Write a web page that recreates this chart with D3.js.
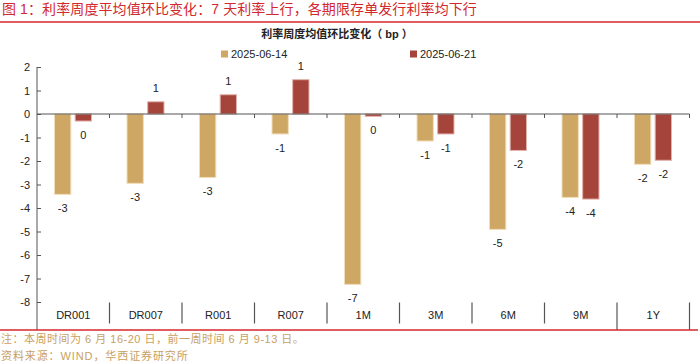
<!DOCTYPE html>
<html>
<head>
<meta charset="utf-8">
<script src="https://cdn.jsdelivr.net/npm/d3@7"></script>
<style>
  html, body { margin: 0; padding: 0; background: #fff; }
  svg { display: block; }
</style>
</head>
<body>
<svg id="chart" width="700" height="362"></svg>
<script>
// ---- data ----
const categories = ["DR001", "DR007", "R001", "R007", "1M", "3M", "6M", "9M", "1Y"];
const seriesNames = ["2025-06-14", "2025-06-21"];
const values0614 = [-3.42, -2.95, -2.70, -0.85, -7.25, -1.15, -4.91, -3.55, -2.14];
const values0621 = [-0.30, 0.52, 0.82, 1.46, -0.10, -0.85, -1.55, -3.62, -1.97];
const yTicks = [2, 1, 0, -1, -2, -3, -4, -5, -6, -7, -8];
const titleText = "图 1：利率周度平均值环比变化：7 天利率上行，各期限存单发行利率均下行";
const subtitleText = "利率周度均值环比变化（ bp ）";
const noteText = "注：本周时间为 6 月 16-20 日，前一周时间 6 月 9-13 日。";
const sourceText = "资料来源：WIND，华西证券研究所";

// ---- styles ----
const colors = ["#CFA764", "#A5443A"];
const strokes = ["#F1DDB8", "#E2B3AC"];
const latin = "'Liberation Sans', Arial, sans-serif";
const cjk = "'Liberation Sans', 'Noto Sans CJK SC', sans-serif";
const axisColor = "#555";

const svg = d3.select("#chart");

// title
svg.append("text")
  .attr("x", 2).attr("y", 9)
  .attr("dominant-baseline", "central")
  .attr("font-family", cjk).attr("font-size", 14)
  .attr("letter-spacing", 0.1)
  .attr("fill", "#D2282E")
  .text(titleText);
svg.append("line")
  .attr("x1", 0).attr("x2", 700).attr("y1", 22).attr("y2", 22)
  .attr("stroke", "#D9272E").attr("stroke-width", 1.5);

// subtitle
svg.append("text")
  .attr("x", 337).attr("y", 33.5)
  .attr("text-anchor", "middle").attr("dominant-baseline", "central")
  .attr("font-family", cjk).attr("font-size", 11).attr("font-weight", "bold")
  .attr("fill", "#222")
  .text(subtitleText);

// legend
const legendX = [221, 410];
seriesNames.forEach((name, i) => {
  svg.append("rect")
    .attr("x", legendX[i]).attr("y", 50.5).attr("width", 7).attr("height", 7)
    .attr("fill", colors[i]);
  svg.append("text")
    .attr("x", legendX[i] + 10).attr("y", 54.3)
    .attr("dominant-baseline", "central")
    .attr("font-family", latin).attr("font-size", 11).attr("fill", "#222")
    .text(name);
});

// scales
const x = d3.scaleBand().domain(categories).range([37, 689.5]).padding(0);
const sub = d3.scaleBand().domain(seriesNames)
  .range([17.5, 54.5]).paddingInner(0.21).paddingOuter(0);
const y = d3.scaleLinear().domain([2, -8]).range([67, 302]);

// bars
const series = [values0614, values0621];
const barData = [];
categories.forEach((c, ci) => {
  series.forEach((vals, si) => {
    barData.push({ cat: c, s: seriesNames[si], si, v: vals[ci] });
  });
});

const g = svg.append("g");
g.selectAll("rect.bar").data(barData).enter().append("rect")
  .attr("class", "bar")
  .attr("x", d => x(d.cat) + sub(d.s))
  .attr("width", sub.bandwidth())
  .attr("y", d => Math.min(y(d.v), y(0)))
  .attr("height", d => Math.abs(y(d.v) - y(0)))
  .attr("fill", d => colors[d.si])
  .attr("stroke", d => strokes[d.si]).attr("stroke-width", 1);

// value labels
g.selectAll("text.lbl").data(barData).enter().append("text")
  .attr("class", "lbl")
  .attr("x", d => x(d.cat) + sub(d.s) + sub.bandwidth() / 2)
  .attr("y", d => d.v >= 0 ? y(d.v) - 14 : y(d.v) + 14)
  .attr("text-anchor", "middle").attr("dominant-baseline", "central")
  .attr("font-family", latin).attr("font-size", 11).attr("fill", "#222")
  .text(d => String(Math.round(d.v) === 0 ? 0 : Math.round(d.v)));

// y axis
const yAxis = d3.axisRight(y).tickValues(yTicks).tickSize(4).tickFormat(d => String(d));
const ya = svg.append("g").attr("transform", "translate(37,0)").call(yAxis);
ya.select(".domain").remove();
ya.selectAll(".tick line").attr("stroke", axisColor);
ya.selectAll(".tick text")
  .attr("x", -7).attr("text-anchor", "end")
  .attr("font-family", latin).attr("font-size", 11).attr("fill", "#222");
svg.append("line")
  .attr("x1", 37).attr("x2", 37).attr("y1", y(2)).attr("y2", 330)
  .attr("stroke", axisColor).attr("stroke-width", 1);

// x axis at zero
const boundaries = categories.map(c => x(c) + x.bandwidth());
svg.append("line")
  .attr("x1", 37).attr("x2", 689.5).attr("y1", y(0)).attr("y2", y(0))
  .attr("stroke", axisColor).attr("stroke-width", 1);
svg.selectAll("line.zt").data(boundaries).enter().append("line")
  .attr("class", "zt")
  .attr("x1", d => d).attr("x2", d => d)
  .attr("y1", y(0)).attr("y2", y(0) + 4)
  .attr("stroke", axisColor);

// bottom category labels & separators
svg.selectAll("text.cat").data(categories).enter().append("text")
  .attr("class", "cat")
  .attr("x", d => x(d) + x.bandwidth() / 2).attr("y", 315)
  .attr("text-anchor", "middle").attr("dominant-baseline", "central")
  .attr("font-family", latin).attr("font-size", 11).attr("fill", "#222")
  .text(d => d);
svg.selectAll("line.sep").data(boundaries).enter().append("line")
  .attr("class", "sep")
  .attr("x1", d => d).attr("x2", d => d)
  .attr("y1", 302.5).attr("y2", (d, i) => (i === 7 || i === 8) ? 330 : 323.5)
  .attr("stroke", axisColor).attr("stroke-width", 1.2);

// bottom red line
svg.append("line")
  .attr("x1", 0).attr("x2", 698).attr("y1", 330).attr("y2", 330)
  .attr("stroke", "#D9272E").attr("stroke-width", 1.5);

// footer
svg.append("text")
  .attr("x", 1).attr("y", 339)
  .attr("dominant-baseline", "central")
  .attr("font-family", cjk).attr("font-size", 11).attr("letter-spacing", 0.5)
  .attr("fill", "#C9A062")
  .text(noteText);
svg.append("text")
  .attr("x", 1).attr("y", 356)
  .attr("dominant-baseline", "central")
  .attr("font-family", cjk).attr("font-size", 11).attr("letter-spacing", 0.9)
  .attr("fill", "#C9A062")
  .text(sourceText);
</script>
</body>
</html>
